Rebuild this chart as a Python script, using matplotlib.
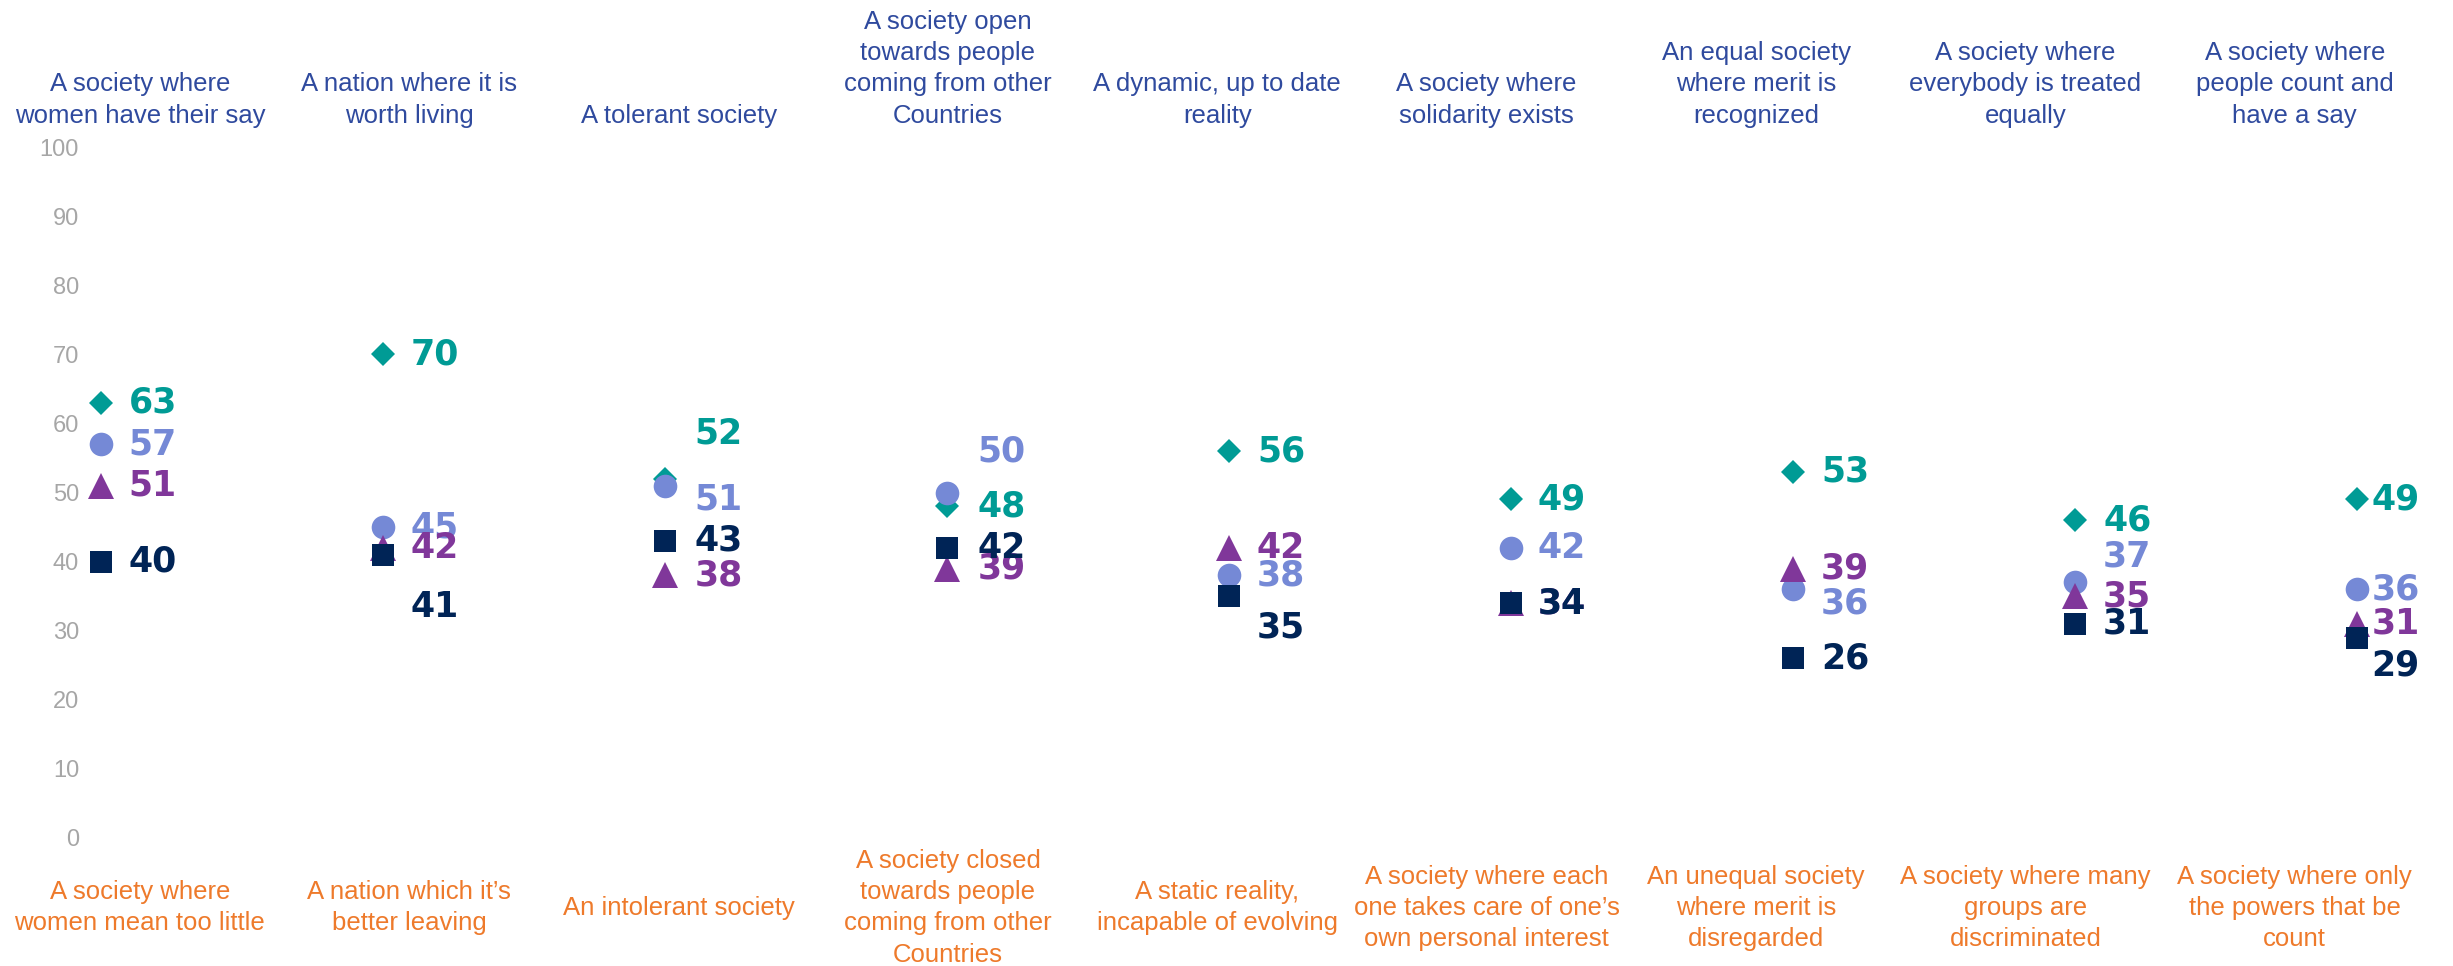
import numpy as np
import matplotlib
matplotlib.use("Agg")
import matplotlib.pyplot as plt

# categories (positive pole on top, negative pole at the bottom)
top_labels = [
    "A society where\nwomen have their say",
    "A nation where it is\nworth living",
    "A tolerant society",
    "A society open\ntowards people\ncoming from other\nCountries",
    "A dynamic, up to date\nreality",
    "A society where\nsolidarity exists",
    "An equal society\nwhere merit is\nrecognized",
    "A society where\neverybody is treated\nequally",
    "A society where\npeople count and\nhave a say",
]
bottom_labels = [
    "A society where\nwomen mean too little",
    "A nation which it\u2019s\nbetter leaving",
    "An intolerant society",
    "A society closed\ntowards people\ncoming from other\nCountries",
    "A static reality,\nincapable of evolving",
    "A society where each\none takes care of one\u2019s\nown personal interest",
    "An unequal society\nwhere merit is\ndisregarded",
    "A society where many\ngroups are\ndiscriminated",
    "A society where only\nthe powers that be\ncount",
]

# series values
diamond_vals = [63, 70, 52, 48, 56, 49, 53, 46, 49]
circle_vals = [57, 45, 51, 50, 38, 42, 36, 37, 36]
triangle_vals = [51, 42, 38, 39, 42, 34, 39, 35, 31]
square_vals = [40, 41, 43, 42, 35, 34, 26, 31, 29]

y_ticks = [0, 10, 20, 30, 40, 50, 60, 70, 80, 90, 100]

# label nudges (data units) so that numbers do not overlap
diamond_dy = [0, 0, 6.5, 0, 0, 0, 0, 0, 0]
circle_dy = [0, 0, -2, 6, 0, 0, -2, 3.7, 0]
triangle_dy = [0, 0, 0, 0, 0, 0, 0, 0, 0]
square_dy = [0, -7.6, 0, 0, -4.5, 0, 0, 0, -4]
label_dx = [20, 20, 21, 22, 20, 19, 20, 20, 10]

TEAL = "#009B95"
LILAC = "#7589D6"
PURPLE = "#80379A"
NAVY = "#002456"
BLUE_TXT = "#2F4A9E"
ORANGE_TXT = "#EE7A2B"
GREY = "#A6A6A6"

plt.rcParams['font.family'] = ['Liberation Sans', 'DejaVu Sans']

W, H = 2453, 966
fig = plt.figure(figsize=(W / 100, H / 100), dpi=100)
ax = fig.add_axes([86 / W, (H - 838) / H, (2442 - 86) / W, 691 / H])

x = np.arange(len(top_labels))

series = [
    (diamond_vals, diamond_dy, 'D', 12.2, TEAL),
    (circle_vals, circle_dy, 'o', 17.0, LILAC),
    (triangle_vals, triangle_dy, '^', 18.5, PURPLE),
    (square_vals, square_dy, 's', 16.5, NAVY),
]

for vals, dys, mk, ms, col in series:
    ax.plot(x, vals, linestyle='none', marker=mk, markersize=ms,
            color=col, markeredgewidth=0)
    for i, v in enumerate(vals):
        ax.annotate(str(v), (x[i], v + dys[i]), xytext=(label_dx[i], 0),
                    textcoords='offset points', ha='left', va='center',
                    fontsize=25, fontweight='bold', color=col,
                    family='DejaVu Sans')

ax.set_xlim(-0.053, 8.3)
ax.set_ylim(0, 100)
ax.set_yticks(y_ticks)
ax.set_xticks([])
ax.tick_params(axis='y', length=0, pad=5, labelsize=17, labelcolor=GREY)
for s in ax.spines.values():
    s.set_visible(False)

# pole labels sit on their own evenly spaced grid
label_x = 0.138 + 0.955 * x
trans = matplotlib.transforms.blended_transform_factory(ax.transData, ax.transAxes)
for i in x:
    ax.text(label_x[i], 1.028, top_labels[i], transform=trans, ha='center',
            va='bottom', fontsize=18.5, color=BLUE_TXT, linespacing=1.38)
    ax.text(label_x[i], -0.101, bottom_labels[i], transform=trans, ha='center',
            va='center', fontsize=18.5, color=ORANGE_TXT, linespacing=1.38)

fig.savefig("out.png", dpi=100, facecolor='white')
